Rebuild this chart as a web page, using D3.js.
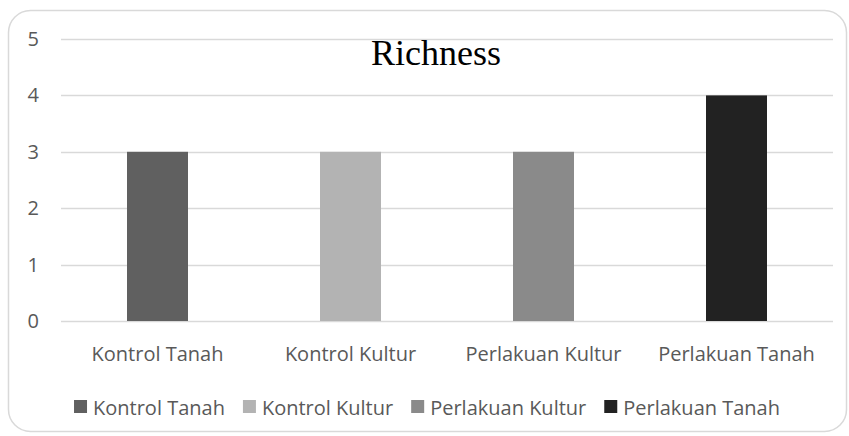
<!DOCTYPE html>
<html>
<head>
<meta charset="utf-8">
<script src="https://cdn.jsdelivr.net/npm/d3@7"></script>
<style>
  body { margin: 0; background: #fff; }
  text { font-family: "Open Sans", sans-serif; fill: #595959; }
</style>
</head>
<body>
<div class="canva"></div>
<script>
// data
const categories = ["Kontrol Tanah", "Kontrol Kultur", "Perlakuan Kultur", "Perlakuan Tanah"];
const richness = [3, 3, 3, 4];
const yTicks = [0, 1, 2, 3, 4, 5];

const colors = ["#606060", "#b3b3b3", "#8a8a8a", "#222222"];

const width = 849, height = 436;

const svg = d3.select(".canva").append("svg")
    .attr("width", width)
    .attr("height", height);

// chart border
svg.append("rect")
    .attr("x", 8.5).attr("y", 10.5)
    .attr("width", 838).attr("height", 421)
    .attr("rx", 22)
    .attr("fill", "#fff")
    .attr("stroke", "#d9d9d9")
    .attr("stroke-width", 1.5);

const x = d3.scaleBand()
    .domain(categories)
    .range([61, 833])
    .paddingInner(0.684)
    .paddingOuter(0.342);

const y = d3.scaleLinear()
    .domain([0, 5])
    .range([321, 39]);

// gridlines
svg.append("g").selectAll("line")
    .data(yTicks)
    .enter().append("line")
    .attr("x1", 61).attr("x2", 833)
    .attr("y1", d => Math.round(y(d)) + 0.5)
    .attr("y2", d => Math.round(y(d)) + 0.5)
    .attr("stroke", "#d9d9d9")
    .attr("stroke-width", 1.5);

// y tick labels
svg.append("g").selectAll("text")
    .data(yTicks)
    .enter().append("text")
    .attr("x", 39)
    .attr("y", d => y(d) + 7)
    .attr("text-anchor", "end")
    .style("font-size", "20px")
    .text(d => d);

// bars
svg.append("g").selectAll("rect")
    .data(richness)
    .enter().append("rect")
    .attr("x", (d, i) => x(categories[i]))
    .attr("y", d => y(d))
    .attr("width", x.bandwidth())
    .attr("height", d => y(0) - y(d))
    .attr("fill", (d, i) => colors[i]);

// x labels
svg.append("g").selectAll("text")
    .data(categories)
    .enter().append("text")
    .attr("x", d => x(d) + x.bandwidth() / 2)
    .attr("y", 361)
    .attr("text-anchor", "middle")
    .style("font-size", "20px")
    .text(d => d);

// title
svg.append("text")
    .attr("x", 436)
    .attr("y", 65)
    .attr("text-anchor", "middle")
    .style("font-family", "'Liberation Serif', 'Times New Roman', serif")
    .style("font-size", "36px")
    .style("fill", "#000")
    .text("Richness");

// legend
const legend = svg.append("g");
const items = legend.selectAll("g")
    .data(categories)
    .enter().append("g");

items.append("rect")
    .attr("width", 13).attr("height", 13)
    .attr("y", 400)
    .attr("fill", (d, i) => colors[i]);

items.append("text")
    .attr("x", 19)
    .attr("y", 415)
    .style("font-size", "20px")
    .text(d => d);

let pos = 0;
const gap = 18;
items.each(function() {
    const g = d3.select(this);
    g.attr("transform", "translate(" + pos + ",0)");
    pos += 19 + g.select("text").node().getComputedTextLength() + gap;
});
const total = pos - gap;
legend.attr("transform", "translate(" + (427 - total / 2) + ",0)");
</script>
</body>
</html>
